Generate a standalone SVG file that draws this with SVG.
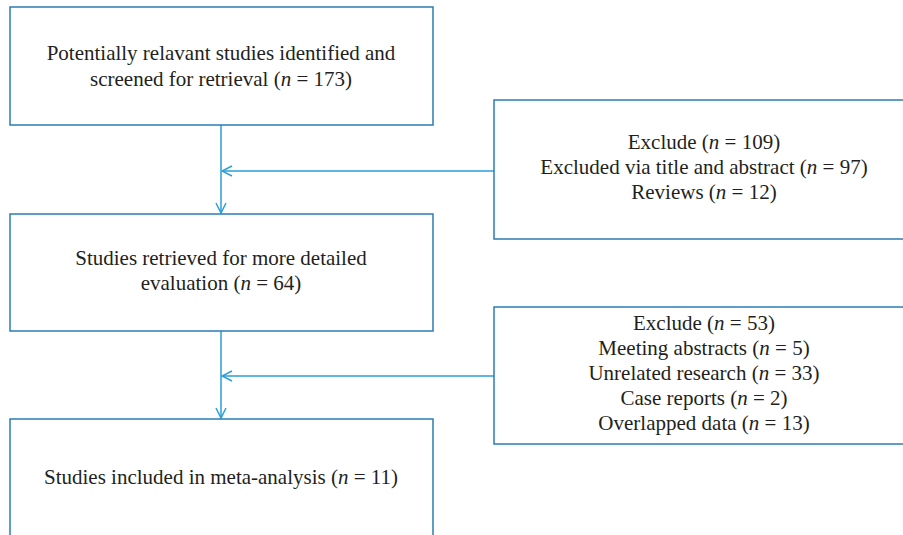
<svg xmlns="http://www.w3.org/2000/svg" width="903" height="535" viewBox="0 0 903 535">
<style>
.box{fill:#fff;stroke:#2a7db3;stroke-width:1.5}
.t{font-family:"Liberation Serif","Times New Roman",serif;font-size:21px;fill:#231f20;text-anchor:middle}
.c{fill:none;stroke:#2b9ed8;stroke-width:1.5}
</style>
<defs>
<marker id="ah" viewBox="0 0 12 12" refX="11" refY="6" markerWidth="12" markerHeight="12" markerUnits="userSpaceOnUse" orient="auto">
<path d="M1,1 L11,6 L1,11" fill="none" stroke="#2b9ed8" stroke-width="1.5"/>
</marker>
</defs>
<rect width="903" height="535" fill="#fff"/>
<g id="connectors">
<line class="c" x1="221" y1="125" x2="221" y2="213" marker-end="url(#ah)"/>
<line class="c" x1="494" y1="171" x2="222" y2="171" marker-end="url(#ah)"/>
<line class="c" x1="221" y1="331" x2="221" y2="418" marker-end="url(#ah)"/>
<line class="c" x1="494" y1="376" x2="222" y2="376" marker-end="url(#ah)"/>
</g>
<g id="n1">
<rect class="box" x="10" y="7" width="423" height="118"/>
<text class="t" x="221" y="60">Potentially relavant studies identified and</text>
<text class="t" x="221" y="86">screened for retrieval (<tspan font-style="italic">n</tspan> = 173)</text>
</g>
<g id="n2">
<rect class="box" x="494" y="100" width="420" height="139"/>
<text class="t" x="704" y="149">Exclude (<tspan font-style="italic">n</tspan> = 109)</text>
<text class="t" x="704" y="174">Excluded via title and abstract (<tspan font-style="italic">n</tspan> = 97)</text>
<text class="t" x="704" y="199">Reviews (<tspan font-style="italic">n</tspan> = 12)</text>
</g>
<g id="n3">
<rect class="box" x="10" y="214" width="423" height="117"/>
<text class="t" x="221" y="265">Studies retrieved for more detailed</text>
<text class="t" x="221" y="290">evaluation (<tspan font-style="italic">n</tspan> = 64)</text>
</g>
<g id="n4">
<rect class="box" x="494" y="307" width="420" height="137"/>
<text class="t" x="704" y="330">Exclude (<tspan font-style="italic">n</tspan> = 53)</text>
<text class="t" x="704" y="355">Meeting abstracts (<tspan font-style="italic">n</tspan> = 5)</text>
<text class="t" x="704" y="380">Unrelated research (<tspan font-style="italic">n</tspan> = 33)</text>
<text class="t" x="704" y="405">Case reports (<tspan font-style="italic">n</tspan> = 2)</text>
<text class="t" x="704" y="430">Overlapped data (<tspan font-style="italic">n</tspan> = 13)</text>
</g>
<g id="n5">
<rect class="box" x="10" y="419" width="423" height="130"/>
<text class="t" x="221" y="484">Studies included in meta-analysis (<tspan font-style="italic">n</tspan> = 11)</text>
</g>
</svg>
